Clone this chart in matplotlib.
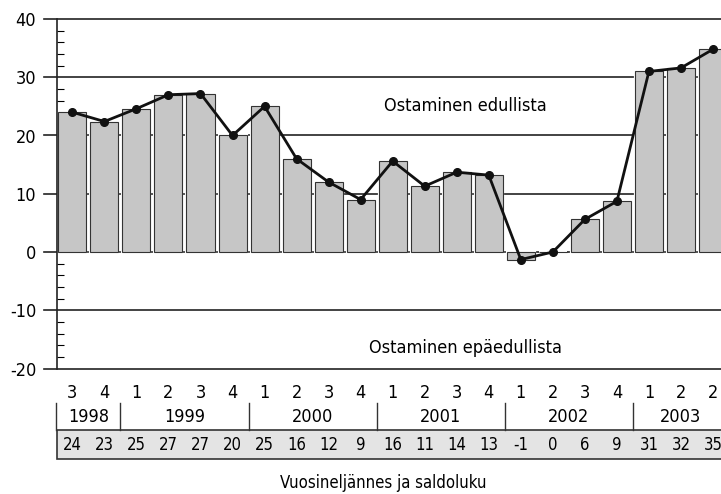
import matplotlib
matplotlib.use('Agg')
from matplotlib import pyplot as plt
from matplotlib.patches import Rectangle
import numpy as np

plt.rcParams['font.family'] = ['DejaVu Sans']
plt.rcParams['font.stretch'] = 'condensed'
plt.rcParams['axes.unicode_minus'] = False

# data
quarters = ['3', '4', '1', '2', '3', '4', '1', '2', '3', '4', '1', '2', '3', '4',
            '1', '2', '3', '4', '1', '2', '2']
saldo = [24.0, 22.4, 24.6, 27.0, 27.2, 20.0, 25.0, 16.0, 12.0, 9.0, 15.6, 11.3,
         13.7, 13.2, -1.3, 0.0, 5.6, 8.7, 31.0, 31.6, 34.8]
saldo_labels = ['24', '23', '25', '27', '27', '20', '25', '16', '12', '9', '16', '11',
                '14', '13', '-1', '0', '6', '9', '31', '32', '35']
years = ['1998', '1999', '2000', '2001', '2002', '2003']
year_start = [0, 2, 6, 10, 14, 18]
year_end = [1, 5, 9, 13, 17, 20]

x = np.arange(len(saldo))

fig = plt.figure(figsize=(7.21, 4.94), dpi=100)
ax = fig.add_axes([57/721, 1 - 368.5/494, 1 - 57/721, (368.5 - 19)/494])

for yv in range(-20, 41, 10):
    ax.axhline(yv, color='#222222', lw=1.2, zorder=1, xmin=-0.02, clip_on=False)

ax.bar(x, saldo, width=0.875, color='#c6c6c6', edgecolor='white', lw=1.6, zorder=2)
ax.bar(x, saldo, width=0.875, color='#c6c6c6', edgecolor='#333333', lw=0.8, zorder=3)
ax.plot(x, saldo, color='#111111', lw=2, marker='o', ms=5.5, zorder=4)

ax.set_xlim(-0.48, 20.25)
ax.set_ylim(-20, 40)
ax.set_yticks(range(-20, 41, 10))
ax.set_yticks(range(-20, 41, 2), minor=True)
ax.tick_params(axis='y', which='major', length=0, pad=15, labelsize=13)
ax.tick_params(axis='y', which='minor', direction='in', length=5, width=0.8)
ax.set_xticks([])
for s in ['top', 'right', 'bottom']:
    ax.spines[s].set_visible(False)
ax.spines['left'].set_linewidth(1.2)
ax.spines['left'].set_color('#222222')

ax.text(12.27, 25, 'Ostaminen edullista', ha='center', va='center', fontsize=13)
ax.text(12.27, -16.5, 'Ostaminen epäedullista', ha='center', va='center', fontsize=13)

# table under the chart (y in figure pixels from the top)
def fy(py):
    return 1 - py / 494

tr = ax.get_xaxis_transform()
def ay(py):
    # convert figure pixel y to axes fraction
    bottom = 1 - 368.5 / 494
    height = (368.5 - 19) / 494
    return (fy(py) - bottom) / height

for xi, q in zip(x, quarters):
    ax.text(xi, ay(393), q, ha='center', va='center', fontsize=13, transform=tr, clip_on=False)

for name, a, b in zip(years, year_start, year_end):
    ax.text((a + b) / 2, ay(417), name, ha='center', va='center', fontsize=13,
            transform=tr, clip_on=False)
    ax.plot([a - 0.5, a - 0.5], [ay(403), ay(430)], color='#333333', lw=1,
            transform=tr, clip_on=False)

box = Rectangle((-0.47, ay(459)), 21, ay(430) - ay(459), transform=tr,
                facecolor='#e4e4e4', edgecolor='#333333', lw=1.2, clip_on=False)
ax.add_patch(box)
for xi, lab in zip(x, saldo_labels):
    ax.text(xi, ay(445), lab, ha='center', va='center', fontsize=12, transform=tr, clip_on=False)

fig.text(383/721, fy(483), 'Vuosineljännes ja saldoluku', ha='center', va='center', fontsize=12)

fig.savefig('out.png', dpi=100)
